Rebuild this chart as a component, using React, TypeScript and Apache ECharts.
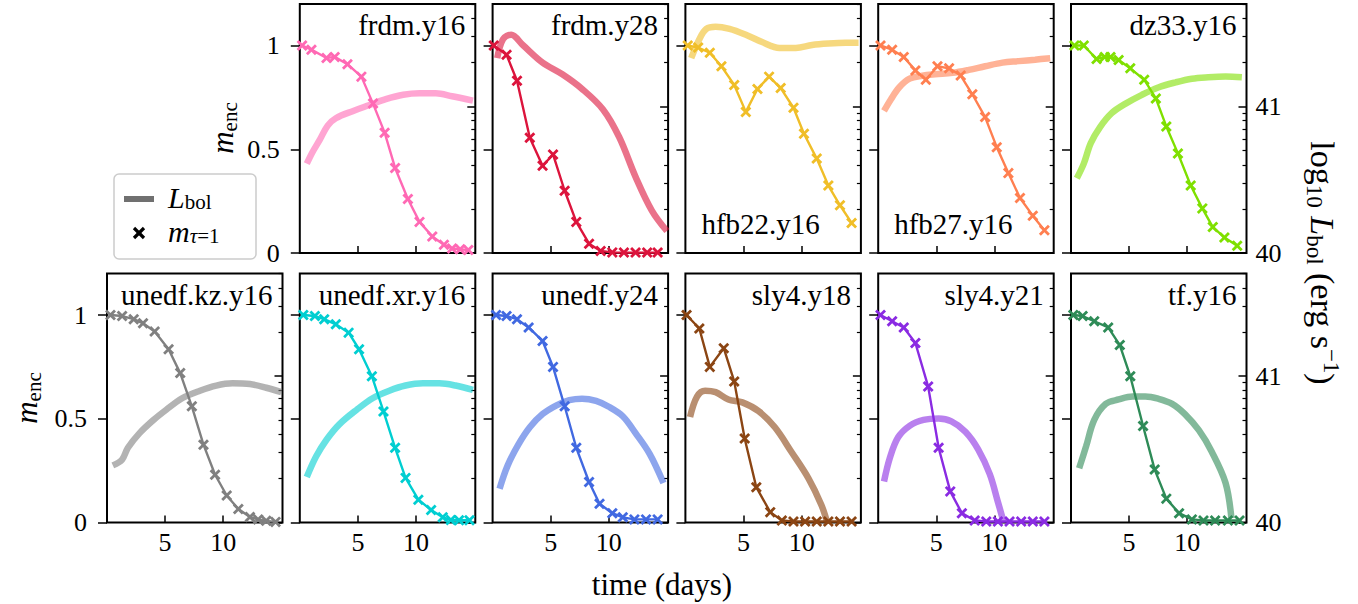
import React, { useEffect, useRef } from 'react';
import * as echarts from 'echarts';

const FONT = 'Liberation Serif, DejaVu Serif, serif';

// tick values
const dayTicks = [5, 10];
const mencTicks = [0, 0.5, 1];
const lbolTicks = [40, 41];
const lbolMinorTicks = [2, 3, 4, 5, 6, 7, 8, 9]
  .map((k) => 40 + Math.log10(k))
  .concat([2, 3, 4, 5].map((k) => 41 + Math.log10(k)));

// frdm.y16
const frdmY16Days = [0.2, 1.0, 2.3, 3.0, 4.1, 5.3, 6.3, 7.3, 8.2, 9.3, 10.3, 11.4, 12.4, 13.1, 13.8, 14.5];
const frdmY16Menc = [1.0, 0.98, 0.94, 0.945, 0.91, 0.85, 0.72, 0.58, 0.41, 0.26, 0.15, 0.08, 0.04, 0.022, 0.018, 0.014];
const frdmY16LDays = [0.6, 1.1, 1.7, 2.4, 3.1, 4.6, 6.0, 7.4, 8.9, 10.3, 11.7, 13.1, 14.9];
const frdmY16LogL = [40.61, 40.69, 40.77, 40.87, 40.92, 40.97, 41.01, 41.05, 41.08, 41.09, 41.09, 41.07, 41.04];

// frdm.y28
const frdmY28Days = [0.1, 1.2, 2.1, 3.2, 4.3, 5.2, 6.2, 7.2, 8.3, 9.3, 10.3, 11.3, 12.3, 13.3, 14.2];
const frdmY28Menc = [1.0, 0.955, 0.83, 0.555, 0.42, 0.475, 0.3, 0.15, 0.045, 0.01, 0.003, 0.002, 0.002, 0.002, 0.002];
const frdmY28LDays = [0.4, 0.9, 1.6, 2.6, 4.3, 6.0, 7.7, 9.5, 10.9, 12.3, 13.7, 15.0];
const frdmY28LogL = [41.33, 41.46, 41.49, 41.42, 41.3, 41.22, 41.12, 40.98, 40.79, 40.52, 40.29, 40.15];

// hfb22.y16
const hfb22Y16Days = [0.2, 1.1, 2.1, 3.1, 4.2, 5.2, 6.2, 7.2, 8.2, 9.3, 10.2, 11.3, 12.3, 13.3, 14.3];
const hfb22Y16Menc = [1.0, 0.99, 0.965, 0.9, 0.81, 0.68, 0.79, 0.85, 0.795, 0.7, 0.575, 0.455, 0.325, 0.23, 0.145];
const hfb22Y16LDays = [0.5, 1.2, 1.8, 2.6, 3.8, 5.2, 6.6, 8.1, 9.5, 10.9, 12.3, 13.8, 14.9];
const hfb22Y16LogL = [41.33, 41.46, 41.53, 41.545, 41.53, 41.49, 41.44, 41.4, 41.4, 41.42, 41.43, 41.435, 41.435];

// hfb27.y16
const hfb27Y16Days = [0.2, 1.2, 2.2, 3.2, 4.1, 5.1, 6.1, 7.1, 8.1, 9.2, 10.2, 11.2, 12.2, 13.3, 14.3];
const hfb27Y16Menc = [1.0, 0.98, 0.945, 0.88, 0.835, 0.9, 0.89, 0.855, 0.765, 0.655, 0.51, 0.385, 0.265, 0.18, 0.11];
const hfb27Y16LDays = [0.5, 1.1, 1.8, 2.7, 3.8, 4.9, 6.4, 7.8, 9.2, 10.7, 12.1, 13.5, 14.8];
const hfb27Y16LogL = [40.97, 41.05, 41.13, 41.19, 41.21, 41.22, 41.23, 41.25, 41.275, 41.3, 41.31, 41.32, 41.33];

// dz33.y16
const dz33Y16Days = [0.3, 1.1, 2.2, 2.9, 3.4, 4.1, 5.1, 6.3, 7.3, 8.2, 9.2, 10.3, 11.3, 12.2, 13.2, 14.3];
const dz33Y16Menc = [1.0, 1.0, 0.935, 0.945, 0.945, 0.93, 0.89, 0.835, 0.745, 0.61, 0.48, 0.325, 0.215, 0.125, 0.075, 0.035];
const dz33Y16LDays = [0.5, 1.1, 1.7, 2.5, 3.5, 4.7, 6.1, 7.5, 9.0, 10.4, 11.8, 13.3, 14.7];
const dz33Y16LogL = [40.51, 40.61, 40.75, 40.86, 40.955, 41.02, 41.08, 41.13, 41.165, 41.19, 41.2, 41.205, 41.2];

// unedf.kz.y16
const unedfKzDays = [0.3, 1.3, 2.3, 3.1, 4.1, 5.3, 6.3, 7.3, 8.3, 9.3, 10.3, 11.3, 12.3, 13.0, 13.7, 14.5];
const unedfKzMenc = [1.0, 0.995, 0.98, 0.96, 0.92, 0.835, 0.72, 0.56, 0.375, 0.23, 0.13, 0.065, 0.027, 0.015, 0.008, 0.003];
const unedfKzLDays = [0.5, 1.3, 1.8, 2.8, 4.0, 5.1, 6.5, 8.0, 9.4, 10.8, 12.3, 13.7, 15.0];
const unedfKzLogL = [40.39, 40.43, 40.51, 40.61, 40.7, 40.77, 40.85, 40.9, 40.935, 40.95, 40.945, 40.92, 40.89];

// unedf.xr.y16
const unedfXrDays = [0.3, 1.3, 2.1, 3.1, 4.2, 5.1, 6.2, 7.2, 8.2, 9.1, 10.2, 11.3, 12.3, 13.0, 13.7, 14.6];
const unedfXrMenc = [1.0, 0.995, 0.98, 0.955, 0.915, 0.835, 0.705, 0.535, 0.36, 0.215, 0.11, 0.06, 0.025, 0.012, 0.011, 0.011];
const unedfXrLDays = [0.6, 1.4, 2.3, 3.4, 4.9, 6.3, 7.7, 9.1, 10.6, 12.0, 13.4, 14.9];
const unedfXrLogL = [40.31, 40.45, 40.565, 40.67, 40.77, 40.85, 40.9, 40.935, 40.95, 40.95, 40.935, 40.905];

// unedf.y24
const unedfY24Days = [0.3, 1.2, 2.1, 3.1, 4.3, 5.2, 6.2, 7.2, 8.3, 9.2, 10.3, 11.2, 12.2, 13.2, 14.2];
const unedfY24Menc = [1.0, 0.995, 0.98, 0.94, 0.875, 0.75, 0.56, 0.36, 0.195, 0.09, 0.045, 0.025, 0.015, 0.015, 0.015];
const unedfY24LDays = [0.6, 1.3, 2.2, 3.2, 4.3, 5.5, 6.6, 7.7, 8.9, 10.0, 11.2, 12.3, 13.5, 14.7];
const unedfY24LogL = [40.23, 40.39, 40.53, 40.65, 40.74, 40.8, 40.835, 40.845, 40.83, 40.79, 40.725, 40.61, 40.47, 40.27];

// sly4.y18
const sly4Y18Days = [0.1, 1.2, 2.1, 3.3, 4.2, 5.1, 6.1, 7.3, 8.3, 9.3, 10.3, 11.3, 12.3, 13.3, 14.3];
const sly4Y18Menc = [1.0, 0.935, 0.75, 0.84, 0.68, 0.405, 0.17, 0.05, 0.01, 0.005, 0.005, 0.005, 0.005, 0.005, 0.005];
const sly4Y18LDays = [0.4, 1.0, 1.7, 2.6, 3.7, 4.9, 6.3, 7.7, 9.1, 10.6, 11.7, 12.2];
const sly4Y18LogL = [40.72, 40.86, 40.9, 40.89, 40.84, 40.82, 40.76, 40.65, 40.485, 40.3, 40.12, 40.0];

// sly4.y21
const sly4Y21Days = [0.2, 1.2, 2.2, 3.2, 4.3, 5.2, 6.2, 7.2, 8.3, 9.3, 10.3, 11.3, 12.3, 13.3, 14.3];
const sly4Y21Menc = [1.0, 0.97, 0.94, 0.865, 0.655, 0.36, 0.15, 0.045, 0.01, 0.005, 0.005, 0.005, 0.005, 0.005, 0.005];
const sly4Y21LDays = [0.5, 1.0, 1.7, 2.7, 3.9, 5.2, 6.3, 7.5, 8.6, 9.6, 10.3, 10.8];
const sly4Y21LogL = [40.28, 40.44, 40.58, 40.66, 40.7, 40.71, 40.69, 40.62, 40.5, 40.33, 40.14, 40.0];

// tf.y16
const tfY16Days = [0.2, 1.0, 2.0, 3.2, 4.2, 5.1, 6.2, 7.2, 8.2, 9.3, 10.4, 11.4, 12.4, 13.5, 14.5];
const tfY16Menc = [1.0, 0.995, 0.97, 0.94, 0.855, 0.705, 0.465, 0.255, 0.115, 0.045, 0.015, 0.01, 0.01, 0.01, 0.01];
const tfY16LDays = [0.7, 1.3, 2.0, 3.0, 4.1, 5.3, 6.4, 7.5, 8.7, 9.8, 11.0, 12.1, 13.3, 13.8];
const tfY16LogL = [40.37, 40.52, 40.7, 40.81, 40.84, 40.86, 40.86, 40.845, 40.81, 40.74, 40.63, 40.485, 40.27, 40.03];

const panels = [
  { name: 'frdm.y16', row: 0, col: 1, color: '#ff69b4', tag: 'top', days: frdmY16Days, menc: frdmY16Menc, lDays: frdmY16LDays, logL: frdmY16LogL },
  { name: 'frdm.y28', row: 0, col: 2, color: '#dc143c', tag: 'top', days: frdmY28Days, menc: frdmY28Menc, lDays: frdmY28LDays, logL: frdmY28LogL },
  { name: 'hfb22.y16', row: 0, col: 3, color: '#f0be28', tag: 'bottom', days: hfb22Y16Days, menc: hfb22Y16Menc, lDays: hfb22Y16LDays, logL: hfb22Y16LogL },
  { name: 'hfb27.y16', row: 0, col: 4, color: '#ff7f50', tag: 'bottom', days: hfb27Y16Days, menc: hfb27Y16Menc, lDays: hfb27Y16LDays, logL: hfb27Y16LogL },
  { name: 'dz33.y16', row: 0, col: 5, color: '#7fe000', tag: 'top', days: dz33Y16Days, menc: dz33Y16Menc, lDays: dz33Y16LDays, logL: dz33Y16LogL },
  { name: 'unedf.kz.y16', row: 1, col: 0, color: '#808080', tag: 'top', days: unedfKzDays, menc: unedfKzMenc, lDays: unedfKzLDays, logL: unedfKzLogL },
  { name: 'unedf.xr.y16', row: 1, col: 1, color: '#00ced1', tag: 'top', days: unedfXrDays, menc: unedfXrMenc, lDays: unedfXrLDays, logL: unedfXrLogL },
  { name: 'unedf.y24', row: 1, col: 2, color: '#4169e1', tag: 'top', days: unedfY24Days, menc: unedfY24Menc, lDays: unedfY24LDays, logL: unedfY24LogL },
  { name: 'sly4.y18', row: 1, col: 3, color: '#8b4513', tag: 'top', days: sly4Y18Days, menc: sly4Y18Menc, lDays: sly4Y18LDays, logL: sly4Y18LogL },
  { name: 'sly4.y21', row: 1, col: 4, color: '#8a2be2', tag: 'top', days: sly4Y21Days, menc: sly4Y21Menc, lDays: sly4Y21LDays, logL: sly4Y21LogL },
  { name: 'tf.y16', row: 1, col: 5, color: '#2e8b57', tag: 'top', days: tfY16Days, menc: tfY16Menc, lDays: tfY16LDays, logL: tfY16LogL },
];

const PANEL_W = 175.5;
const PANEL_H = 249;
const rowTop = [4, 273.5];
const colLeft = (c: number) => 107 + 192.8 * c;

// an "x" marker drawn as a filled shape
const CROSS = 'path://M0,1.8L1.8,0L5,3.2L8.2,0L10,1.8L6.8,5L10,8.2L8.2,10L5,6.8L1.8,10L0,8.2L3.2,5Z';

const zip = (a: number[], b: number[]) => a.map((v, i) => [v, b[i]]);

const tok = (size: number, extra: any = {}) => ({ fontSize: size, fontFamily: FONT, fill: '#000', ...extra });

function buildOption(): any {
  const grid: any[] = [];
  const xAxis: any[] = [];
  const yAxis: any[] = [];
  const series: any[] = [];
  const graphic: any[] = [];

  panels.forEach((p, i) => {
    const left = colLeft(p.col);
    const top = rowTop[p.row];
    const firstInRow = (p.row === 0 && p.col === 1) || (p.row === 1 && p.col === 0);
    grid.push({
      left, top, width: PANEL_W, height: PANEL_H,
      show: true, borderColor: '#000', borderWidth: 2, backgroundColor: 'transparent',
      outerBoundsMode: 'none',
    });
    xAxis.push({
      gridIndex: i, type: 'value', min: 0, max: 15.1,
      axisLine: { show: false }, splitLine: { show: false },
      axisTick: { show: true, inside: true, length: 7, customValues: dayTicks, lineStyle: { color: '#000', width: 1.5 } },
      axisLabel: { show: p.row === 1, customValues: dayTicks, margin: 7, color: '#000', fontSize: 26, fontFamily: FONT },
    });
    yAxis.push({
      gridIndex: i, type: 'value', min: 0, max: 1.2, position: 'left',
      axisLine: { show: false }, splitLine: { show: false },
      axisTick: { show: true, inside: false, length: 9, customValues: mencTicks, lineStyle: { color: '#000', width: 1.5 } },
      axisLabel: { show: firstInRow, customValues: mencTicks, margin: 20, color: '#000', fontSize: 26, fontFamily: FONT },
    });
    yAxis.push({
      gridIndex: i, type: 'value', min: 40, max: 41.7, position: 'right',
      axisLine: { show: false }, splitLine: { show: false },
      axisTick: { show: true, inside: true, length: 8, customValues: lbolTicks, lineStyle: { color: '#000', width: 1.5 } },
      axisLabel: { show: p.col === 5, customValues: lbolTicks, margin: 9, color: '#000', fontSize: 26, fontFamily: FONT },
    });
    yAxis.push({
      gridIndex: i, type: 'value', min: 40, max: 41.7, position: 'right',
      axisLine: { show: false }, splitLine: { show: false },
      axisTick: { show: true, inside: true, length: 4, customValues: lbolMinorTicks, lineStyle: { color: '#000', width: 1.2 } },
      axisLabel: { show: false },
    });
    series.push({
      type: 'line', name: p.name + ' Lbol', xAxisIndex: i, yAxisIndex: 3 * i + 1,
      data: zip(p.lDays, p.logL), smooth: 0.35, showSymbol: false, silent: true, z: 2,
      lineStyle: { color: p.color, width: 6.5, opacity: 0.6 },
    });
    series.push({
      type: 'line', name: p.name + ' mtau', xAxisIndex: i, yAxisIndex: 3 * i,
      data: zip(p.days, p.menc), symbol: CROSS, symbolSize: 11, showAllSymbol: true, silent: true, z: 3,
      itemStyle: { color: p.color }, lineStyle: { color: p.color, width: 2.4 },
    });
    graphic.push(
      p.tag === 'top'
        ? { type: 'text', x: left + PANEL_W - 10, y: top + 21, z: 50,
            style: { text: p.name, fontSize: 29, fontFamily: FONT, fill: '#000', align: 'right', verticalAlign: 'middle' } }
        : { type: 'text', x: left + 16, y: top + PANEL_H - 29, z: 50,
            style: { text: p.name, fontSize: 29, fontFamily: FONT, fill: '#000', align: 'left', verticalAlign: 'middle' } }
    );
  });

  const mencRich = {
    m: tok(31, { fontStyle: 'italic' }),
    s: tok(21, { padding: [16, 0, 0, 0] }),
  };
  graphic.push(
    { type: 'text', x: 222, y: 128, rotation: Math.PI / 2, z: 50,
      style: { text: '{m|m}{s|enc}', rich: mencRich, align: 'center', verticalAlign: 'middle', fontFamily: FONT, fill: '#000' } },
    { type: 'text', x: 26, y: 398, rotation: Math.PI / 2, z: 50,
      style: { text: '{m|m}{s|enc}', rich: mencRich, align: 'center', verticalAlign: 'middle', fontFamily: FONT, fill: '#000' } },
    { type: 'text', x: 1322, y: 263, rotation: -Math.PI / 2, z: 50,
      style: {
        text: '{n|log}{s|10}{n| }{i|L}{s|bol}{n| (erg s}{p|\u22121}{n|)}',
        rich: {
          n: tok(34),
          i: tok(34, { fontStyle: 'italic' }),
          s: tok(23, { padding: [16, 0, 0, 0] }),
          p: tok(23, { padding: [0, 0, 18, 0] }),
        },
        align: 'center', verticalAlign: 'middle', fontFamily: FONT, fill: '#000',
      } },
    { type: 'text', x: 662, y: 584, z: 50,
      style: { text: 'time (days)', fontSize: 31, fontFamily: FONT, fill: '#000', align: 'center', verticalAlign: 'middle' } }
  );

  // legend
  graphic.push(
    { type: 'rect', z: 60, shape: { x: 114, y: 174, width: 142, height: 85, r: 5 },
      style: { fill: 'rgba(255,255,255,0.8)', stroke: '#cccccc', lineWidth: 1.5 } },
    { type: 'line', z: 61, shape: { x1: 124, y1: 199, x2: 154, y2: 199 }, style: { stroke: '#707070', lineWidth: 6 } },
    { type: 'line', z: 61, shape: { x1: 134, y1: 228, x2: 144, y2: 238 }, style: { stroke: '#000', lineWidth: 3.2 } },
    { type: 'line', z: 61, shape: { x1: 134, y1: 238, x2: 144, y2: 228 }, style: { stroke: '#000', lineWidth: 3.2 } },
    { type: 'text', x: 168, y: 197, z: 62,
      style: { text: '{i|L}{s|bol}', rich: { i: tok(30, { fontStyle: 'italic' }), s: tok(21, { padding: [10, 0, 0, 0] }) },
        align: 'left', verticalAlign: 'middle', fontFamily: FONT, fill: '#000' } },
    { type: 'text', x: 168, y: 231, z: 62,
      style: { text: '{i|m}{si|\u03c4}{s|=1}',
        rich: { i: tok(30, { fontStyle: 'italic' }), si: tok(21, { fontStyle: 'italic', padding: [10, 0, 0, 0] }), s: tok(21, { padding: [10, 0, 0, 0] }) },
        align: 'left', verticalAlign: 'middle', fontFamily: FONT, fill: '#000' } }
  );

  return { animation: false, backgroundColor: '#fff', grid, xAxis, yAxis, series, graphic };
}

const App: React.FC = () => {
  const chartRef = useRef<HTMLDivElement | null>(null);

  useEffect(() => {
    const chart = echarts.init(chartRef.current!, null, { renderer: 'svg' });
    chart.setOption(buildOption());
    return () => {
      chart.dispose();
    };
  }, []);

  return <div ref={chartRef} style={{ position: 'absolute', left: 0, top: 0, width: '1358px', height: '604px' }} />;
};

export default App;
